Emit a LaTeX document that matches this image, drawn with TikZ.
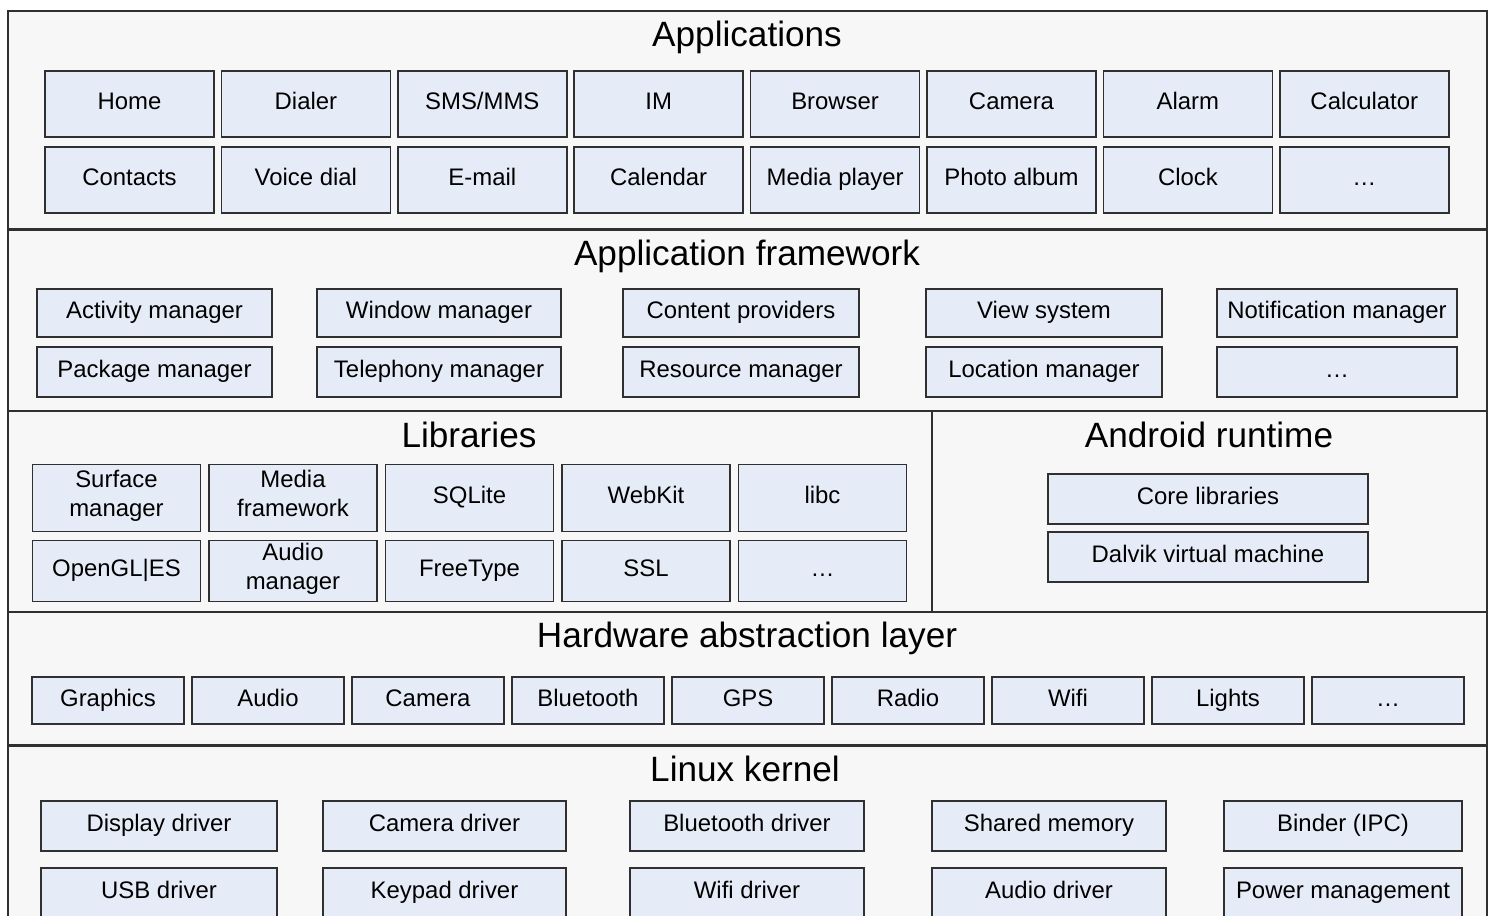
\documentclass[tikz,border=0pt]{standalone}
\usepackage{fontspec}
\setmainfont{Liberation Sans}
\usetikzlibrary{positioning}
\definecolor{layergray}{HTML}{F7F7F7}
\definecolor{compblue}{HTML}{E6ECF7}
\definecolor{lineclr}{HTML}{303030}

\begin{document}
\begin{tikzpicture}[x=0.01cm, y=-0.01cm,
                    Comp/.style={draw=lineclr, fill=compblue, line width=0.45pt, inner sep=0pt, align=center,
                                 font=\fontsize{6.8}{8.3}\selectfont, execute at begin node=\strut, execute at end node=\strut},
                    Heading/.style={inner sep=0pt, anchor=base, font=\fontsize{10}{12}\selectfont},
                    layerline/.style={draw=lineclr, line width=0.6pt}
                    ]
    \useasboundingbox (0,0) rectangle (1491,915);
    \clip (0,0) rectangle (1491,915);
    \fill[white] (0,0) rectangle (1491,915);

    % FRAME %
    \fill[layergray] (8,11) rectangle (1487,940);
    \draw[layerline] (8,940) -- (8,11) -- (1487,11) -- (1487,940);
    \foreach \y in {229.5,411,612,745.5}
    \draw[layerline] (8,\y) -- (1487,\y);
    \draw[layerline] (932,411) -- (932,612);

    % APPLICATIONS %
    \node[Heading] (appsT) at (747,47) {Applications};
    \foreach \t [count=\i from 0] in {Home,Dialer,SMS/MMS,IM,Browser,Camera,Alarm,Calculator}
    \node[Comp, minimum width=1.69cm, minimum height=0.66cm] (Apu\i) at (129.5+176.4*\i,104) {\t};
    \foreach \t [count=\i from 0] in {Contacts,Voice dial,E-mail,Calendar,Media player,Photo album,Clock,\dots}
    \node[Comp, minimum width=1.69cm, minimum height=0.66cm] (Apd\i) at (129.5+176.4*\i,180) {\t};

    % APPLICATION FRAMEWORK %
    \node[Heading] (fwT) at (747,265) {Application framework};
    \foreach \x/\w/\txa/\txb [count=\i from 0] in {154.5/235/Activity manager/Package manager,
                                                  439/244/Window manager/Telephony manager,
                                                  741/236/Content providers/Resource manager,
                                                  1044/236/View system/Location manager,
                                                  1337/240/Notification manager/\dots}{
    \node[Comp, minimum width=\w*0.01cm, minimum height=0.48cm] (Fwu\i) at (\x,313) {\txa};
    \node[Comp, minimum width=\w*0.01cm, minimum height=0.50cm] (Fwd\i) at (\x,372) {\txb};
    }

    % LIBRARIES %
    \node[Heading] (libT) at (469,447) {Libraries};
    \foreach \txa/\txb [count=\i from 0] in {{Surface\\manager}/OpenGL|ES, {Media\\framework}/{Audio\\manager},
                                             SQLite/FreeType, WebKit/SSL, libc/\dots}{
    \node[Comp, minimum width=1.68cm, minimum height=0.67cm] (Lbu\i) at (116.5+176.5*\i,498) {\txa};
    \node[Comp, minimum width=1.68cm, minimum height=0.61cm] (Lbd\i) at (116.5+176.5*\i,571) {\txb};
    }

    % ANDROID RUNTIME %
    \node[Heading] (rtT) at (1209,447) {Android runtime};
    \node[Comp, minimum width=3.2cm, minimum height=0.5cm] (Rt0) at (1208,499) {Core libraries};
    \node[Comp, minimum width=3.2cm, minimum height=0.5cm] (Rt1) at (1208,557) {Dalvik virtual machine};

    % HARDWARE ABSTRACTION LAYER %
    \node[Heading] (halT) at (747,647) {Hardware abstraction layer};
    \foreach \t [count=\i from 0] in {Graphics,Audio,Camera,Bluetooth,GPS,Radio,Wifi,Lights,\dots}
    \node[Comp, minimum width=1.52cm, minimum height=0.47cm] (Hal\i) at (108+160*\i,700.5) {\t};

    % LINUX KERNEL %
    \node[Heading] (krT) at (745,781) {Linux kernel};
    \foreach \x/\w/\txa/\txb [count=\i from 0] in {159/236/Display driver/USB driver,
                                                  444.5/243/Camera driver/Keypad driver,
                                                  747/234/Bluetooth driver/Wifi driver,
                                                  1049/234/Shared memory/Audio driver,
                                                  1343/238/Binder (IPC)/Power management}{
    \node[Comp, minimum width=\w*0.01cm, minimum height=0.50cm] (Kru\i) at (\x,826) {\txa};
    \node[Comp, minimum width=\w*0.01cm, minimum height=0.50cm] (Krd\i) at (\x,893) {\txb};
    }
\end{tikzpicture}
\end{document}
